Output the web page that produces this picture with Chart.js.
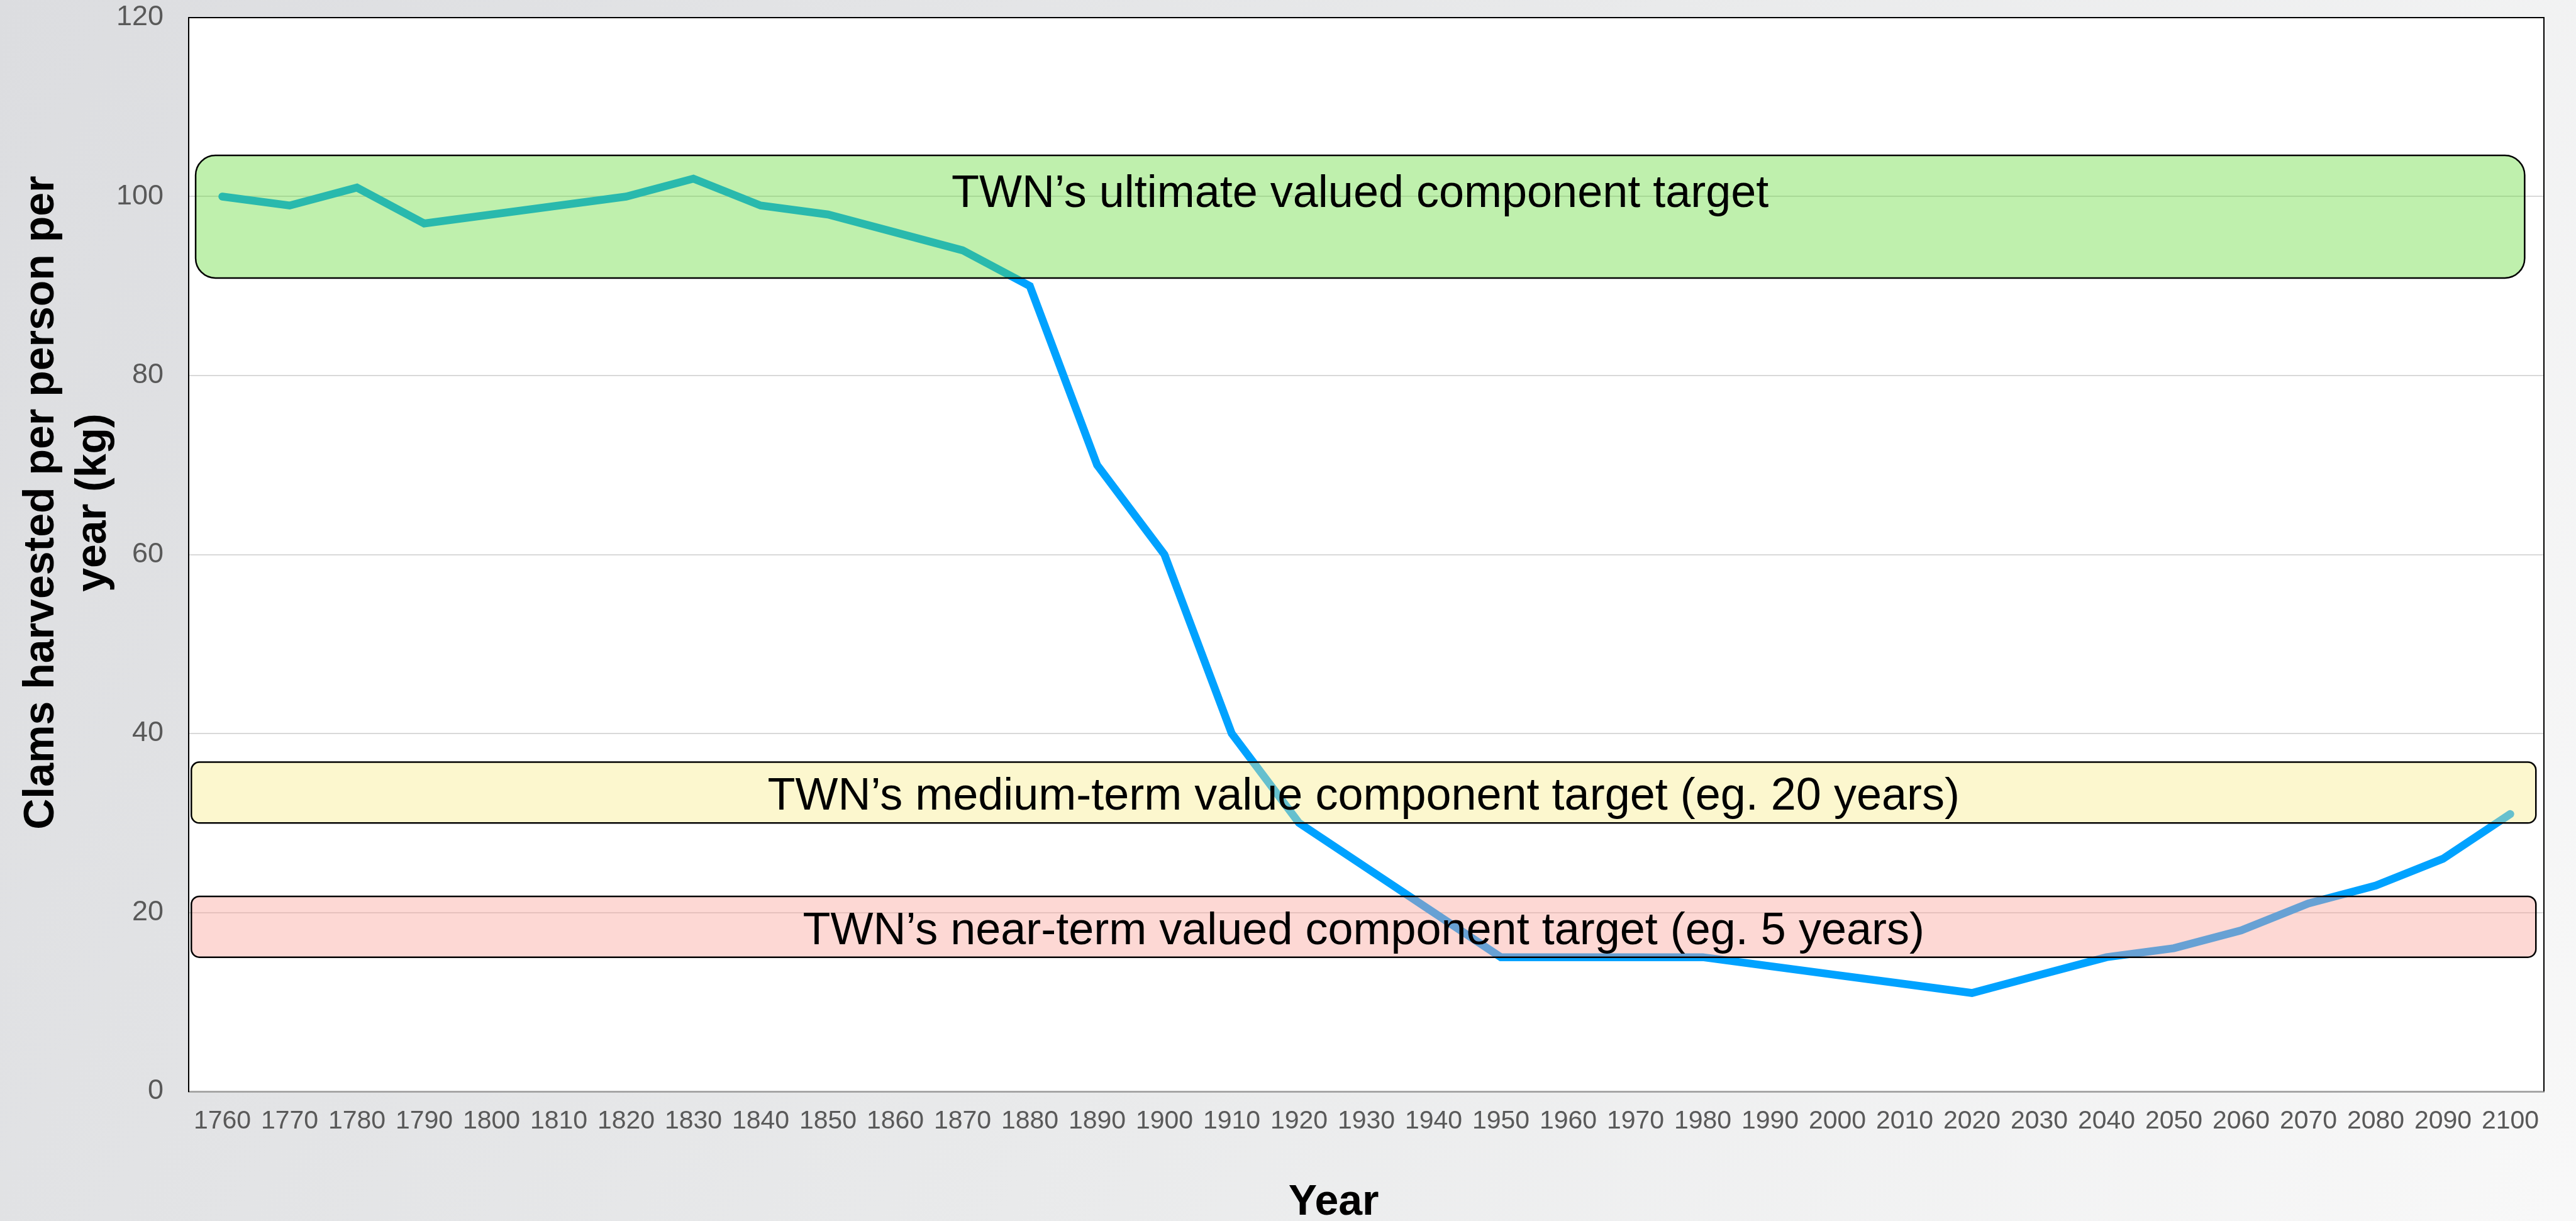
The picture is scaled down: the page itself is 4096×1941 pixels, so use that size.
<!DOCTYPE html>
<html>
<head>
<meta charset="utf-8">
<title>Clams harvested per person per year</title>
<script src="https://cdn.jsdelivr.net/npm/chart.js@4.4.1/dist/chart.umd.min.js"></script>
<style>
  html, body { margin: 0; padding: 0; overflow: hidden; }
  #wrap { width: 4096px; height: 1941px; }
</style>
</head>
<body>
<div id="wrap"><canvas id="clam-chart" width="4096" height="1941"></canvas></div>
<script>
// reference was 4810 wide, everything is drawn at 0.851 of it
const S = 0.851;
const FONT = "'Liberation Sans', Arial, sans-serif";

const years = ['1760', '1770', '1780', '1790', '1800', '1810', '1820', '1830', '1840', '1850',
    '1860', '1870', '1880', '1890', '1900', '1910', '1920', '1930', '1940', '1950',
    '1960', '1970', '1980', '1990', '2000', '2010', '2020', '2030', '2040', '2050',
    '2060', '2070', '2080', '2090', '2100'];
const clamsPerPerson = [100, 99, 101, 97, 98, 99, 100, 102, 99, 98,
    96, 94, 90, 70, 60, 40, 30, 25, 20, 15,
    15, 15, 15, 14, 13, 12, 11, 13, 15, 16,
    18, 21, 23, 26, 31];
const yTickValues = [0, 20, 40, 60, 80, 100, 120];

// target bands (kg per person per year)
const targetLabels = [
    'TWN\u2019s ultimate valued component target',
    'TWN\u2019s medium-term value component target (eg. 20 years)',
    'TWN\u2019s near-term valued component target (eg. 5 years)'
];
const targetLow = [90.9, 30, 15];
const targetHigh = [104.6, 36.8, 21.8];

const yTitleLines = ['Clams harvested per person per', 'year (kg)'];
const xTitle = 'Year';

// look of the bands, kept apart from the values
const bandStyles = [
    { fill: 'rgba(99, 218, 57, 0.41)', radius: 37, insetLeft: 13, insetRight: 36, textDrop: 96 },
    { fill: 'rgba(248, 236, 136, 0.41)', radius: 15, insetLeft: 5, insetRight: 15, textDrop: 89 },
    { fill: 'rgba(250, 160, 150, 0.41)', radius: 15, insetLeft: 5, insetRight: 15, textDrop: 89 }
];

const pageBackground = {
    id: 'pageBackground',
    beforeDraw(chart) {
        const { ctx, width, height, chartArea } = chart;
        ctx.save();
        const g = ctx.createLinearGradient(0, 0, width, width * 0.54);
        g.addColorStop(0, '#dcdde0');
        g.addColorStop(0.5, '#e9eaeb');
        g.addColorStop(1, '#f9f9f9');
        ctx.fillStyle = g;
        ctx.fillRect(0, 0, width, height);
        ctx.fillStyle = '#ffffff';
        ctx.fillRect(chartArea.left, chartArea.top, chartArea.width, chartArea.height);
        ctx.restore();
    },
    beforeDatasetsDraw(chart) {
        // top and right edges of the plot frame
        const { ctx, chartArea } = chart;
        ctx.save();
        ctx.strokeStyle = '#000000';
        ctx.lineWidth = 2;
        ctx.beginPath();
        ctx.moveTo(chartArea.left, chartArea.top);
        ctx.lineTo(chartArea.right, chartArea.top);
        ctx.lineTo(chartArea.right, chartArea.bottom);
        ctx.stroke();
        ctx.restore();
    }
};

const targetBands = {
    id: 'targetBands',
    afterDatasetsDraw(chart) {
        const { ctx, chartArea, scales: { y } } = chart;
        ctx.save();
        targetLabels.forEach((label, i) => {
            const st = bandStyles[i];
            const top = y.getPixelForValue(targetHigh[i]);
            const bottom = y.getPixelForValue(targetLow[i]);
            const left = chartArea.left + st.insetLeft * S;
            const right = chartArea.right - st.insetRight * S;

            ctx.beginPath();
            ctx.roundRect(left, top, right - left, bottom - top, st.radius * S);
            ctx.fillStyle = st.fill;
            ctx.fill();
            ctx.lineWidth = 2.5;
            ctx.strokeStyle = '#000000';
            ctx.stroke();

            ctx.fillStyle = '#000000';
            ctx.font = `${Math.round(85 * S)}px ${FONT}`;
            ctx.textAlign = 'center';
            ctx.textBaseline = 'alphabetic';
            ctx.fillText(label, (left + right) / 2, top + st.textDrop * S);
        });
        ctx.restore();
    }
};

const axisTitles = {
    id: 'axisTitles',
    afterDraw(chart) {
        const { ctx } = chart;
        ctx.save();
        ctx.fillStyle = '#000000';
        ctx.font = `bold ${Math.round(80 * S)}px ${FONT}`;
        ctx.textAlign = 'center';
        ctx.textBaseline = 'alphabetic';

        ctx.fillText(xTitle, 2492 * S, 2269 * S);

        ctx.translate(100 * S, 939 * S);
        ctx.rotate(-Math.PI / 2);
        yTitleLines.forEach((line, i) => {
            ctx.fillText(line, 0, i * 97 * S);
        });
        ctx.restore();
    }
};

const ctx = document.getElementById('clam-chart').getContext('2d');

new Chart(ctx, {
    type: 'line',
    data: {
        labels: years,
        datasets: [{
            label: 'Clams harvested',
            data: clamsPerPerson,
            borderColor: '#00a2ff',
            borderWidth: 12.5,
            borderCapStyle: 'round',
            borderJoinStyle: 'miter',
            pointRadius: 0,
            tension: 0,
            fill: false
        }]
    },
    options: {
        responsive: false,
        devicePixelRatio: 1,
        animation: false,
        layout: {
            padding: { left: 0, right: 4096 - Math.round(4753 * S), top: Math.round(33 * S), bottom: 0 }
        },
        plugins: {
            legend: { display: false },
            tooltip: { enabled: false }
        },
        scales: {
            x: {
                type: 'category',
                offset: true,
                grid: { display: false, drawTicks: false },
                border: { display: true, color: '#a6a6a6', width: 3 },
                ticks: {
                    color: '#595959',
                    font: { family: FONT, size: Math.round(48 * S) },
                    padding: 23,
                    maxRotation: 0,
                    autoSkip: false
                },
                afterFit(scale) {
                    scale.height = 1941 - Math.round(2039 * S);
                }
            },
            y: {
                min: 0,
                max: 120,
                grid: { color: '#d9d9d9', lineWidth: 2, drawTicks: false },
                border: { display: true, color: '#000000', width: 2 },
                ticks: {
                    color: '#595959',
                    font: { family: FONT, size: Math.round(53 * S) },
                    padding: Math.round(47 * S)
                },
                afterBuildTicks(scale) {
                    scale.ticks = yTickValues.map(v => ({ value: v }));
                },
                afterFit(scale) {
                    scale.width = Math.round(352 * S);
                    scale.paddingTop = 0;
                    scale.paddingBottom = 0;
                }
            }
        }
    },
    plugins: [pageBackground, targetBands, axisTitles]
});
</script>
</body>
</html>
